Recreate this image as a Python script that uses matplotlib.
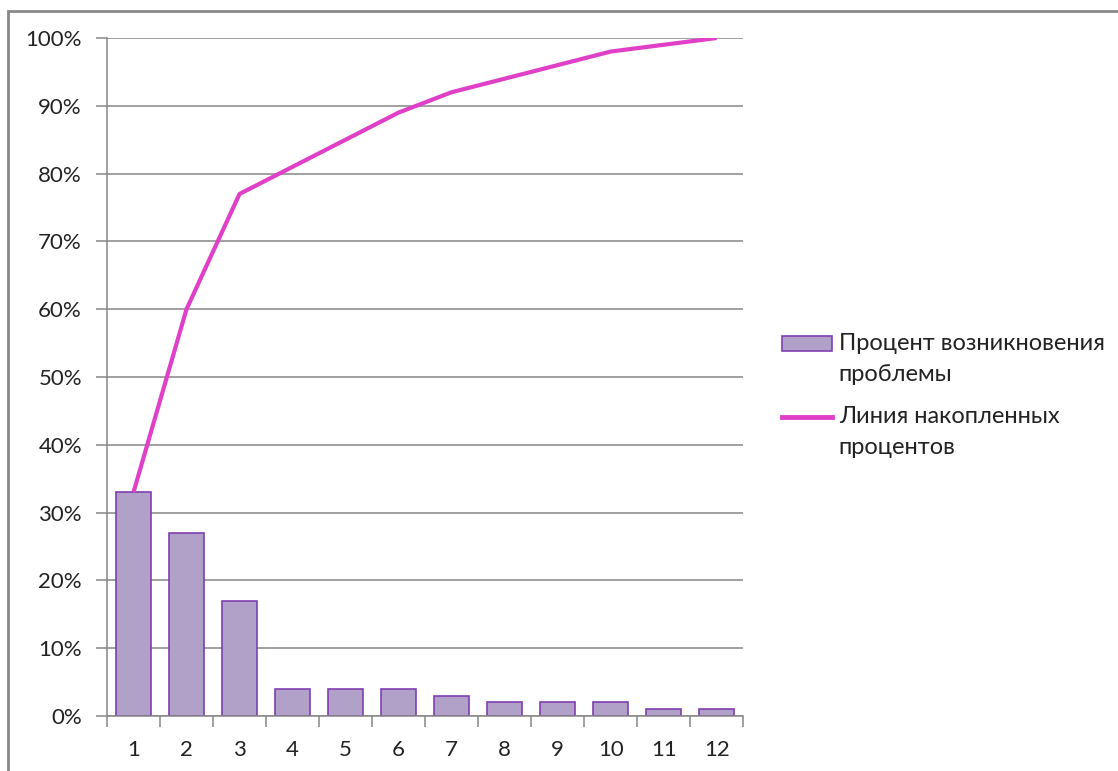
import matplotlib.pyplot as plt
from matplotlib.patches import Rectangle, Patch
from matplotlib.lines import Line2D
from matplotlib.legend_handler import HandlerPatch, HandlerLine2D
from matplotlib.ticker import FuncFormatter, FixedLocator

plt.rcParams['font.family'] = ['Lato', 'DejaVu Sans']

categories = ['1', '2', '3', '4', '5', '6', '7', '8', '9', '10', '11', '12']
share = [33, 27, 17, 4, 4, 4, 3, 2, 2, 2, 1, 1]
cumulative = [33, 60, 77, 81, 85, 89, 92, 94, 96, 98, 99, 100]

bar_label = 'Процент возникновения\nпроблемы'
line_label = 'Линия накопленных\nпроцентов'

BAR_FACE = '#B1A0C7'
BAR_EDGE = '#7F3FB0'
LINE_COL = '#E040C8'
GRID_COL = '#868686'
TEXT_COL = '#222222'

# legend handles sit on the first line of a two-line label
SHIFT = 11.5


class TopPatch(HandlerPatch):
    def create_artists(self, legend, orig_handle, xdescent, ydescent, width, height,
                       fontsize, trans):
        return super().create_artists(legend, orig_handle, xdescent, ydescent - SHIFT,
                                      width, height, fontsize, trans)


class TopLine(HandlerLine2D):
    def create_artists(self, legend, orig_handle, xdescent, ydescent, width, height,
                       fontsize, trans):
        return super().create_artists(legend, orig_handle, xdescent, ydescent - 2 * SHIFT,
                                      width, height, fontsize, trans)


fig = plt.figure(figsize=(11.18, 7.71), dpi=100)
ax = fig.add_axes([0.0957, 0.0713, 0.569, 0.8794])

x = list(range(len(categories)))
ax.bar(x, share, width=0.66, color=BAR_FACE, edgecolor=BAR_EDGE, linewidth=1.2, zorder=2)
ax.plot(x, cumulative, color=LINE_COL, linewidth=3, zorder=3, solid_capstyle='butt')

ax.set_xlim(-0.5, len(categories) - 0.5)
ax.set_ylim(0, 100)
ax.set_yticks(range(0, 101, 10))
ax.yaxis.set_major_formatter(FuncFormatter(lambda v, p: f'{int(v)}%'))
ax.yaxis.grid(True, color=GRID_COL, linewidth=1.1)
ax.set_axisbelow(True)

ax.set_xticks(x)
ax.set_xticklabels(categories)
ax.xaxis.set_minor_locator(FixedLocator([i - 0.5 for i in range(len(categories) + 1)]))
ax.tick_params(axis='x', which='major', length=0, pad=17, labelsize=16, colors=TEXT_COL)
ax.tick_params(axis='x', which='minor', length=8, width=1.1, color=GRID_COL, direction='out')
ax.tick_params(axis='y', length=8, width=1.1, color=GRID_COL, pad=10, labelsize=16,
               labelcolor=TEXT_COL)

for side in ['top', 'right']:
    ax.spines[side].set_visible(False)
for side in ['left', 'bottom']:
    ax.spines[side].set_color(GRID_COL)
    ax.spines[side].set_linewidth(1.1)

bar_handle = Patch(facecolor=BAR_FACE, edgecolor=BAR_EDGE, linewidth=1.2)
line_handle = Line2D([0], [0], color=LINE_COL, linewidth=3.5)
leg = fig.legend([bar_handle, line_handle], [bar_label, line_label], loc='upper left',
                 bbox_to_anchor=(0.6805, 0.596), frameon=False, fontsize=17,
                 handlelength=2.1, handleheight=0.6, handletextpad=0.3, labelspacing=0.9,
                 labelcolor=TEXT_COL,
                 handler_map={Patch: TopPatch(), Line2D: TopLine()})
for t in leg.get_texts():
    t.set_linespacing(1.6)

# outer chart frame
fig.patches.append(Rectangle((8 / 1118, -0.05), 1.1, 0.05 + (771 - 11) / 771,
                             transform=fig.transFigure, fill=False,
                             edgecolor='#888888', linewidth=2))

fig.savefig('out.png', dpi=100)
